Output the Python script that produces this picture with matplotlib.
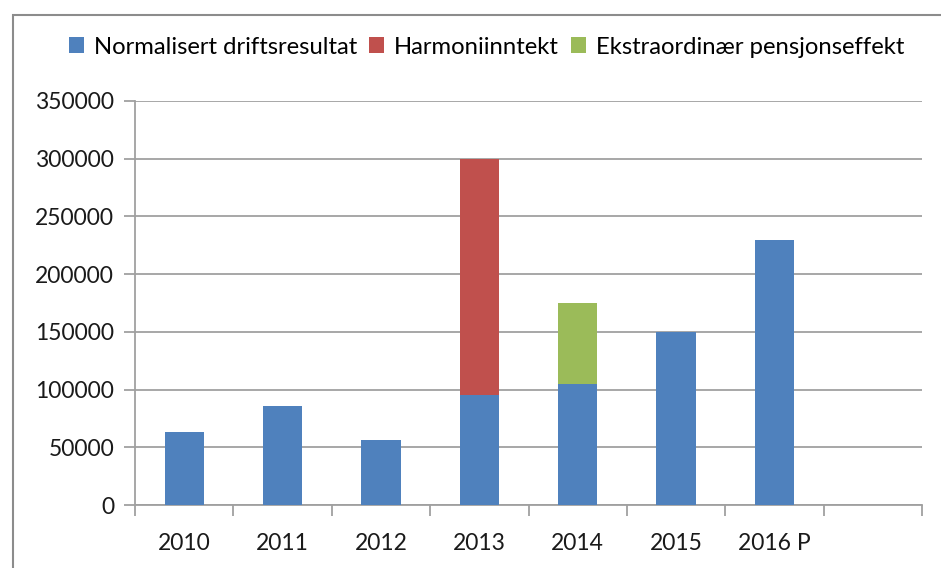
import numpy as np
import matplotlib.pyplot as plt
from matplotlib.patches import Rectangle


years = ["2010", "2011", "2012", "2013", "2014", "2015", "2016 P", ""]
normalisert = [63000, 86000, 56000, 95000, 105000, 150000, 230000, 0]
harmoni = [0, 0, 0, 205000, 0, 0, 0, 0]
pensjon = [0, 0, 0, 0, 70000, 0, 0, 0]

BLUE = "#4F81BD"
RED = "#C0504D"
GREEN = "#9BBB59"
GRID = "#a0a0a0"

plt.rcParams["font.family"] = ["Lato", "DejaVu Sans"]

fig = plt.figure(figsize=(9.41, 5.68), dpi=100)
ax = fig.add_axes([135 / 941, 1 - 505 / 568, (922 - 135) / 941, (505 - 101) / 568])

x = np.arange(len(years))
n = np.array(normalisert)
h = np.array(harmoni)
p = np.array(pensjon)

ax.bar(x, n, width=0.4, color=BLUE, label="Normalisert driftsresultat", zorder=3)
ax.bar(x, h, width=0.4, bottom=n, color=RED, label="Harmoniinntekt", zorder=3)
ax.bar(x, p, width=0.4, bottom=n + h, color=GREEN, label="Ekstraordinær pensjonseffekt", zorder=3)

ax.set_xlim(-0.5, len(years) - 0.5)
ax.set_ylim(0, 350000)
ax.set_yticks(range(0, 350001, 50000))
ax.yaxis.grid(True, color=GRID, linewidth=1.3, zorder=0)
ax.tick_params(axis="y", length=8, color=GRID, width=1.3, labelsize=16.5, labelcolor="#1a1a1a", pad=7)

# ticks at category boundaries, labels at centres
ax.set_xticks(np.arange(-0.5, len(years), 1.0))
ax.set_xticklabels([])
ax.tick_params(axis="x", which="major", length=8, color=GRID, width=1.3)
ax.set_xticks(x, minor=True)
ax.set_xticklabels(years, minor=True)
ax.tick_params(axis="x", which="minor", length=0, labelsize=16.5, labelcolor="#1a1a1a", pad=20)

for side in ["top", "right"]:
    ax.spines[side].set_visible(False)
for side in ["left", "bottom"]:
    ax.spines[side].set_color(GRID)
    ax.spines[side].set_linewidth(1.3)

fig.legend(
    loc="center",
    bbox_to_anchor=(0.517, 1 - 47 / 568),
    ncol=3,
    frameon=False,
    fontsize=17.2,
    handlelength=0.65,
    handleheight=0.65,
    handletextpad=0.4,
    columnspacing=0.5,
)

# outer chart border (cropped on the right and bottom)
fig.add_artist(Rectangle((13 / 941, -0.1), 1.2, 1.1 - 15 / 568,
                         transform=fig.transFigure, fill=False,
                         edgecolor="#8c8c8c", linewidth=1.5))

fig.savefig("out.png", dpi=100)
